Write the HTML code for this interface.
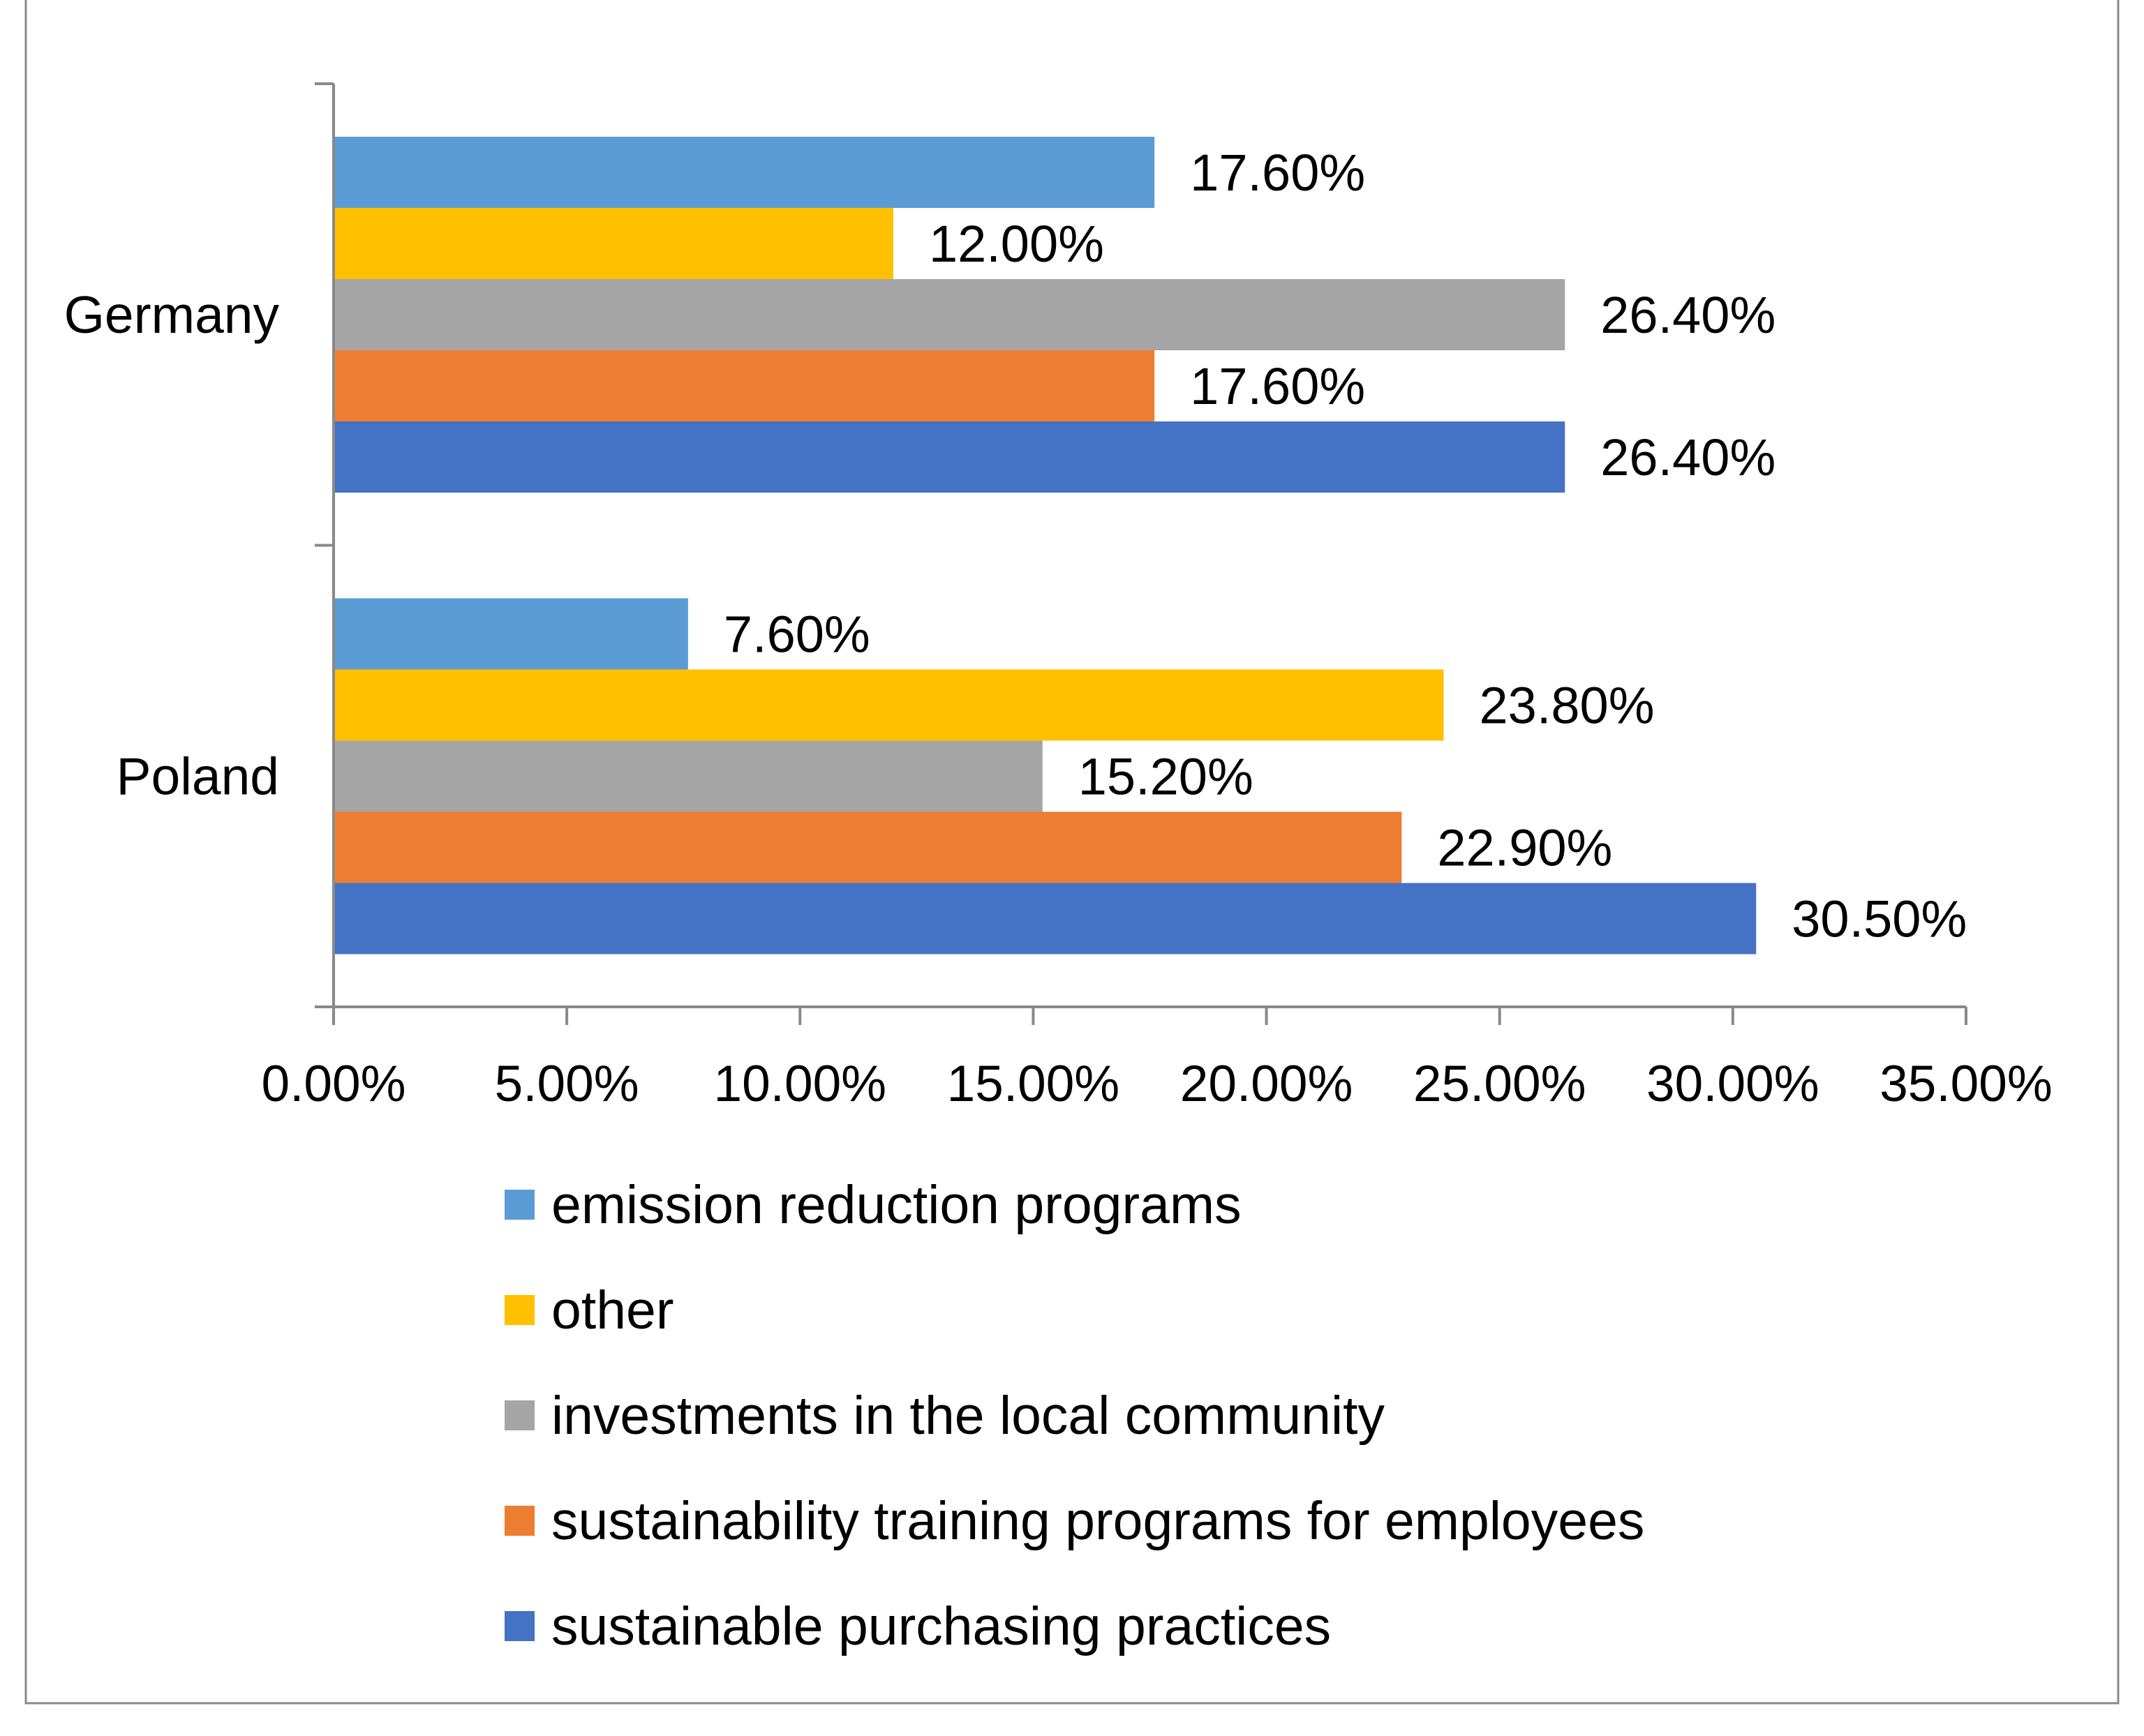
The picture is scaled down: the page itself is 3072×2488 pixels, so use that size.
<!DOCTYPE html>
<html><head><meta charset="utf-8"><style>
html,body{margin:0;padding:0;background:#fff;}
svg{display:block;font-family:"Liberation Sans",sans-serif;}
</style></head><body>
<svg id="chart" width="3072" height="2488" viewBox="0 0 3072 2488" xmlns="http://www.w3.org/2000/svg">
<rect x="0" y="0" width="3072" height="2488" fill="#fff"/>
<path d="M37 0 V2441 H3035 V0" fill="none" stroke="#8a8a8a" stroke-width="3"/>
<g id="plot"></g>
<g id="legend"></g>
</svg>
<script>
const categories = ["Germany", "Poland"];
const seriesNames = ["emission reduction programs", "other", "investments in the local community", "sustainability training programs for employees", "sustainable purchasing practices"];
const seriesColors = ["#5B9BD5", "#FFC000", "#A5A5A5", "#ED7D31", "#4472C4"];
const emissionReduction = [17.6, 7.6];
const other = [12.0, 23.8];
const localCommunity = [26.4, 15.2];
const trainingPrograms = [17.6, 22.9];
const purchasingPractices = [26.4, 30.5];
const seriesValues = [emissionReduction, other, localCommunity, trainingPrograms, purchasingPractices];
const xTicks = [0, 5, 10, 15, 20, 25, 30, 35];

const NS = "http://www.w3.org/2000/svg";
const x0 = 478, x1 = 2817, xMax = 35;
const yTop = 120, yBottom = 1443;
const xScale = v => x0 + (v / xMax) * (x1 - x0);
const bandH = (yBottom - yTop) / categories.length;
const barH = 102, groupOffset = 76;
const plot = document.getElementById("plot");
const legend = document.getElementById("legend");
function mk(tag, attrs, parent) {
  const e = document.createElementNS(NS, tag);
  for (const k in attrs) e.setAttribute(k, attrs[k]);
  parent.appendChild(e);
  return e;
}
categories.forEach((cat, ci) => {
  const bandTop = yTop + ci * bandH;
  seriesValues.forEach((vals, si) => {
    const y = bandTop + groupOffset + si * barH;
    const r = mk("rect", {x: x0, y: y, width: xScale(vals[ci]) - x0, height: barH, fill: seriesColors[si]}, plot);
    
    
    const t = mk("text", {x: xScale(vals[ci]) + 51, y: y + barH / 2 + 26, "font-size": 74, fill: "#000"}, plot);
    t.textContent = vals[ci].toFixed(2) + "%";
    
    
  });
  const cl = mk("text", {x: 400, y: bandTop + bandH / 2 + 26, "font-size": 75, "text-anchor": "end", fill: "#000"}, plot);
  cl.textContent = cat;
  
  
});
const ya = mk("line", {x1: x0, y1: yTop, x2: x0, y2: yBottom, stroke: "#898989", "stroke-width": 4}, plot);


for (let i = 0; i <= categories.length; i++) {
  const y = yTop + i * bandH;
  const tk = mk("line", {x1: 451, y1: y, x2: x0, y2: y, stroke: "#898989", "stroke-width": 4}, plot);
  
  
}
const xa = mk("line", {x1: 451, y1: yBottom, x2: x1, y2: yBottom, stroke: "#898989", "stroke-width": 4}, plot);


xTicks.forEach(v => {
  const x = xScale(v);
  const tk = mk("line", {x1: x, y1: yBottom, x2: x, y2: 1469, stroke: "#898989", "stroke-width": 4}, plot);
  
  
  const tl = mk("text", {x: x, y: 1578, "font-size": 73, "text-anchor": "middle", fill: "#000"}, plot);
  tl.textContent = v.toFixed(2) + "%";
  
  
});
seriesNames.forEach((name, si) => {
  const cy = 1726 + si * 151;
  const sw = mk("rect", {x: 723, y: cy - 21, width: 43, height: 43, fill: seriesColors[si]}, legend);
  
  
  const lt = mk("text", {x: 790, y: cy + 27, "font-size": 77, fill: "#000"}, legend);
  lt.textContent = name;
  
  
});
</script>
</body></html>
